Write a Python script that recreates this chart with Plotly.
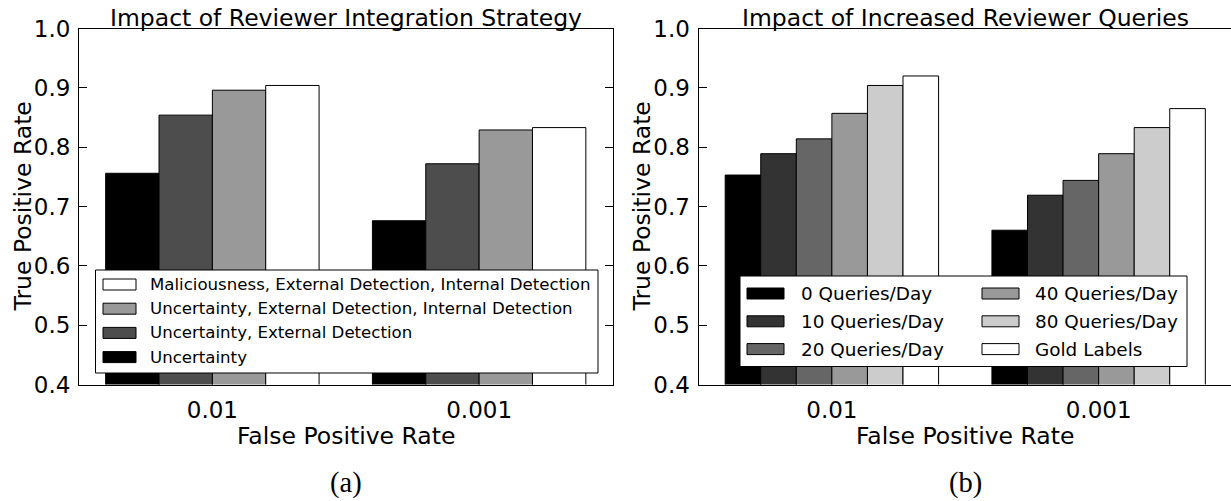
import plotly.graph_objects as go

# ---- data ---------------------------------------------------------------
fpr_labels = ["0.01", "0.001"]

strategy_names = [
    "Uncertainty",
    "Uncertainty, External Detection",
    "Uncertainty, External Detection, Internal Detection",
    "Maliciousness, External Detection, Internal Detection",
]
strategy_colors = ["#000000", "#4d4d4d", "#999999", "#ffffff"]
strategy_tpr_001 = [0.756, 0.854, 0.896, 0.904]   # FPR = 0.01
strategy_tpr_0001 = [0.676, 0.772, 0.829, 0.833]  # FPR = 0.001

query_names = [
    "0 Queries/Day", "10 Queries/Day", "20 Queries/Day",
    "40 Queries/Day", "80 Queries/Day", "Gold Labels",
]
query_colors = ["#000000", "#333333", "#666666", "#999999", "#cccccc", "#ffffff"]
query_tpr_001 = [0.753, 0.789, 0.814, 0.857, 0.904, 0.920]
query_tpr_0001 = [0.660, 0.719, 0.744, 0.789, 0.833, 0.865]

y_ticks = [0.4, 0.5, 0.6, 0.7, 0.8, 0.9, 1.0]
y_tick_text = ["0.4", "0.5", "0.6", "0.7", "0.8", "0.9", "1.0"]

# ---- page geometry (pixels) ---------------------------------------------
W, H = 1231, 501
FONT = "DejaVu Sans"


def px(x):
    return x / W


def py(y):
    return 1 - y / H


LEFT = (79, 612.5)
RIGHT = (698.5, 1231)
TOP, BOTTOM = 28.5, 384.5
unit_px = (LEFT[1] - LEFT[0]) / 2.0
right_range_end = -0.5 + (RIGHT[1] - RIGHT[0]) / unit_px

fig = go.Figure()

for name, color, a, b in zip(strategy_names, strategy_colors,
                             strategy_tpr_001, strategy_tpr_0001):
    fig.add_trace(go.Bar(
        x=fpr_labels, y=[a, b], name=name, xaxis="x", yaxis="y",
        marker=dict(color=color, line=dict(color="#000000", width=1)),
        showlegend=False,
    ))

for name, color, a, b in zip(query_names, query_colors,
                             query_tpr_001, query_tpr_0001):
    fig.add_trace(go.Bar(
        x=fpr_labels, y=[a, b], name=name, xaxis="x2", yaxis="y2",
        marker=dict(color=color, line=dict(color="#000000", width=1)),
        showlegend=False,
    ))

xaxis_common = dict(
    type="category", showline=True, linecolor="#000000", linewidth=1,
    mirror=True, ticks="", showgrid=False, zeroline=False, automargin=False,
    tickfont=dict(family=FONT, size=23, color="#000000"),
    ticklabelstandoff=5,
)
yaxis_common = dict(
    range=[0.4, 1.0], tickvals=y_ticks, ticktext=y_tick_text,
    showline=True, linecolor="#000000", linewidth=1,
    ticks="inside", ticklen=8, tickcolor="#000000", tickwidth=1,
    showgrid=False, zeroline=False, automargin=False,
    tickfont=dict(family=FONT, size=23, color="#000000"),
    ticklabelstandoff=3,
)

fig.update_layout(
    template="none",
    width=W, height=H,
    margin=dict(l=0, r=0, t=0, b=0, pad=0, autoexpand=False),
    paper_bgcolor="#ffffff", plot_bgcolor="#ffffff",
    barmode="group", bargap=0.2, bargroupgap=0,
    xaxis=dict(domain=[px(LEFT[0]), px(LEFT[1])], range=[-0.5, 1.5],
               anchor="y", **xaxis_common),
    yaxis=dict(domain=[py(BOTTOM), py(TOP)], anchor="x", mirror="ticks",
               **yaxis_common),
    xaxis2=dict(domain=[px(RIGHT[0]), 1.0], range=[-0.5, right_range_end],
                anchor="y2", **xaxis_common),
    yaxis2=dict(domain=[py(BOTTOM), py(TOP)], anchor="x2", mirror=False,
                **yaxis_common),
    # right-hand tick marks of the second panel; its spine falls past the page edge
    yaxis3=dict(overlaying="y2", side="right", anchor="free", position=1.0,
                range=[0.4, 1.0], tickvals=y_ticks, showticklabels=False,
                showline=False, ticks="inside", ticklen=8,
                tickcolor="#000000", tickwidth=1, showgrid=False,
                zeroline=False, automargin=False),
)

shapes = []
annotations = []


def text_at(text, x, y, size, family=FONT, angle=0, xanchor="center"):
    annotations.append(dict(
        text=text, x=px(x), y=py(y), xref="paper", yref="paper",
        xanchor=xanchor, yanchor="middle", showarrow=False, textangle=angle,
        font=dict(family=family, size=size, color="#000000"),
    ))


panels = [
    ("Impact of Reviewer Integration Strategy", "(a)", LEFT, 22),
    ("Impact of Increased Reviewer Queries", "(b)", (RIGHT[0], RIGHT[1] + 1), 641),
]
for title, caption, (x0, x1), ytitle_x in panels:
    cx = (x0 + x1) / 2
    text_at(title, cx, 17.5, 23.5)
    text_at("False Positive Rate", cx, 436, 23.5)
    text_at("True Positive Rate", ytitle_x, (TOP + BOTTOM) / 2, 23.5, angle=-90)
    text_at(caption, cx, 483, 28.5, family="Liberation Serif")


def legend_box(x0, y0, x1, y1):
    shapes.append(dict(
        type="rect", xref="paper", yref="paper", layer="above",
        x0=px(x0), x1=px(x1), y0=py(y1), y1=py(y0),
        fillcolor="#ffffff", line=dict(color="#000000", width=1),
    ))


def legend_entry(name, color, patch_x, text_x, cy, pw, ph, size):
    shapes.append(dict(
        type="rect", xref="paper", yref="paper", layer="above",
        x0=px(patch_x), x1=px(patch_x + pw),
        y0=py(cy + ph / 2), y1=py(cy - ph / 2),
        fillcolor=color, line=dict(color="#000000", width=1),
    ))
    text_at(name, text_x, cy, size, xanchor="left")


# legend of the strategy panel (last series listed first)
legend_box(95.5, 270, 598, 373)
for i, k in enumerate(reversed(range(len(strategy_names)))):
    legend_entry(strategy_names[k], strategy_colors[k], 103, 148,
                 284.5 + 24.2 * i, 33, 11, 16.6)

# legend of the query panel (two columns, filled column by column)
legend_box(740, 276, 1187, 366.5)
col_x = [(747, 799), (982, 1033)]
for k, (name, color) in enumerate(zip(query_names, query_colors)):
    c, r = divmod(k, 3)
    legend_entry(name, color, col_x[c][0], col_x[c][1],
                 293.5 + 27.8 * r, 37, 11, 18.4)

fig.update_layout(shapes=shapes, annotations=annotations)

fig.write_html("out.html")
